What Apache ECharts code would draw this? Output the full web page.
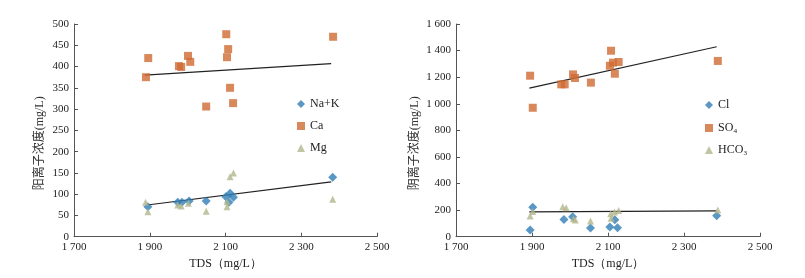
<!DOCTYPE html>
<html><head><meta charset="utf-8">
<script src="https://cdn.jsdelivr.net/npm/echarts@6/dist/echarts.min.js"></script>
<style>html,body{margin:0;padding:0;background:#fff}#c{width:805px;height:278px}</style>
</head><body><div id="c"></div>
<script>
// Left panel: cations
const naK = [[1895,70.5],[1974,81],[1985,81],[2004,84],[2049,84],[2101,94],[2112,102],[2109,81],[2121,92.5],[2383,139.5]];
const ca = [[1890,375],[1896,420],[1977,401],[1983,399],[2001,425],[2007,411],[2049,306],[2102,476],[2104,422],[2107,441],[2112,350],[2120,314],[2384,470]];
const mg = [[1889,81],[1895,58.7],[1974,74.5],[1983,72],[2002,78.4],[2049,60],[2104,82],[2104,70.5],[2112,141],[2121,150],[2383,88]];
const caTrend = [[1887,380],[2379,407]];
const naKTrend = [[1893,74.5],[2379,129]];
// Right panel: anions
const cl = [[1895,50],[1902,221],[1984,130],[2007,150],[2054,65],[2105,73],[2118,128],[2125,67],[2386,158]];
const so4 = [[1895,1211],[1902,970],[1977,1146],[1986,1146],[2008,1221],[2013,1194],[2055,1159],[2105,1286],[2108,1399],[2113,1309],[2118,1226],[2128,1314],[2389,1322]];
const hco3 = [[1895,155],[1902,190],[1981,226],[1990,218],[2009,135],[2014,125],[2054,118],[2107,173],[2108,138],[2117,186],[2128,198],[2389,200]];
const so4Trend = [[1893,1118],[2386,1429]];
const hco3Trend = [[1893,186],[2386,194]];
const xTicks = {min:1700, max:2500, interval:200};
const yLeft = {min:0, max:500, interval:50};
const yRight = {min:0, max:1600, interval:200};

const BLUE='#2f7db5', ORANGE='#cf6a32', OLIVE='#b3b68c';
const serif = '"Liberation Serif","Times New Roman",serif';
const fmt = v => { const s=String(v); return s.length>3 ? s.slice(0,s.length-3)+' '+s.slice(-3) : s; };
const axisCommon = {
  axisLine:{show:true,onZero:false,lineStyle:{color:'#555',width:1}},
  axisTick:{show:true,inside:true,length:4,lineStyle:{color:'#555'}},
  splitLine:{show:false}
};
function xAxis(gi){return Object.assign({type:'value',gridIndex:gi,min:xTicks.min,max:xTicks.max,interval:xTicks.interval,
  name:'TDS（mg/L）',nameLocation:'middle',nameGap:21,nameTextStyle:{fontFamily:serif,fontSize:12,color:'#222'}},
  JSON.parse(JSON.stringify(axisCommon)),{axisLabel:{fontFamily:serif,fontSize:11,color:'#222',formatter:fmt,margin:5}});}
function yAxis(gi,r,name,gap){return Object.assign({type:'value',gridIndex:gi,min:r.min,max:r.max,interval:r.interval,
  name:name,nameLocation:'middle',nameGap:gap,nameRotate:90,
  nameTextStyle:{fontFamily:'"Liberation Serif","Noto Sans CJK SC",serif',fontSize:12,color:'#333',padding:[0,26,0,0]}},
  JSON.parse(JSON.stringify(axisCommon)),{axisLabel:{fontFamily:serif,fontSize:11,color:'#222',formatter:fmt,margin:5}});}
function sc(name,data,sym,size,color,gi){return {name:name,type:'scatter',xAxisIndex:gi,yAxisIndex:gi,data:data,symbol:sym,symbolSize:size,itemStyle:{color:color},z:3};}
function tr(data,gi){return {type:'line',xAxisIndex:gi,yAxisIndex:gi,data:data,showSymbol:false,symbol:'none',lineStyle:{color:'#222',width:1.2},silent:true,z:2};}
function lg(name,icon,left,top,size){return {data:[name],icon:icon,left:left,top:top,itemWidth:size,itemHeight:size,
  textStyle:{fontFamily:serif,fontSize:12,color:'#222'},itemGap:0,padding:0,selectedMode:false};}
const chart = echarts.init(document.getElementById('c'),null,{renderer:'canvas'});
chart.setOption({
  animation:false,
  grid:[{left:74,top:24,width:303,height:212.7},{left:456,top:24,width:304,height:212.7}],
  xAxis:[xAxis(0),xAxis(1)],
  yAxis:[yAxis(0,yLeft,'阳离子浓度(mg/L)',28),yAxis(1,yRight,'阴离子浓度(mg/L)',35)],
  legend:[
    lg('Na+K','diamond',297,98,8), lg('Ca','rect',297,120,8), lg('Mg','triangle',297,142,8),
    lg('Cl','diamond',705,99,8), lg('SO₄','rect',705,122,8), lg('HCO₃','triangle',705,144,8)
  ],
  series:[
    sc('Na+K',naK,'diamond',9,BLUE,0), sc('Ca',ca,'rect',8,ORANGE,0), sc('Mg',mg,'triangle',7,OLIVE,0),
    tr(caTrend,0), tr(naKTrend,0),
    sc('Cl',cl,'diamond',9,BLUE,1), sc('SO₄',so4,'rect',8,ORANGE,1), sc('HCO₃',hco3,'triangle',7,OLIVE,1),
    tr(so4Trend,1), tr(hco3Trend,1)
  ]
});
</script></body></html>
